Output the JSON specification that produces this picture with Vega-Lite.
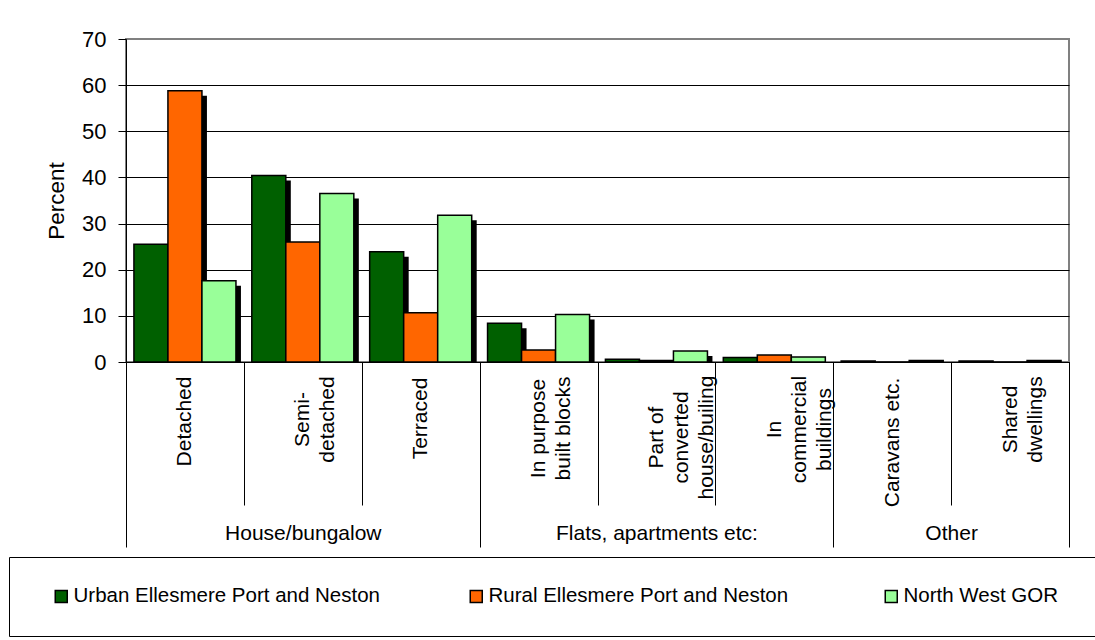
{
  "$schema": "https://vega.github.io/schema/vega-lite/v6.json",
  "width": 943,
  "height": 323,
  "autosize": {"type": "none"},
  "padding": {"left": 126, "top": 39, "right": 26, "bottom": 278},
  "background": "white",
  "config": {
    "font": "Liberation Sans",
    "view": {"stroke": "#808080", "strokeWidth": 2}
  },
  "data": {
    "values": [
      {"type": "Detached", "group": "House/bungalow", "series": "Urban Ellesmere Port and Neston", "value": 25.5},
      {"type": "Detached", "group": "House/bungalow", "series": "Rural Ellesmere Port and Neston", "value": 58.8},
      {"type": "Detached", "group": "House/bungalow", "series": "North West GOR", "value": 17.6},
      {"type": "Semi-|detached", "group": "House/bungalow", "series": "Urban Ellesmere Port and Neston", "value": 40.4},
      {"type": "Semi-|detached", "group": "House/bungalow", "series": "Rural Ellesmere Port and Neston", "value": 26.0},
      {"type": "Semi-|detached", "group": "House/bungalow", "series": "North West GOR", "value": 36.5},
      {"type": "Terraced", "group": "House/bungalow", "series": "Urban Ellesmere Port and Neston", "value": 23.9},
      {"type": "Terraced", "group": "House/bungalow", "series": "Rural Ellesmere Port and Neston", "value": 10.7},
      {"type": "Terraced", "group": "House/bungalow", "series": "North West GOR", "value": 31.8},
      {"type": "In purpose|built blocks", "group": "Flats, apartments etc:", "series": "Urban Ellesmere Port and Neston", "value": 8.4},
      {"type": "In purpose|built blocks", "group": "Flats, apartments etc:", "series": "Rural Ellesmere Port and Neston", "value": 2.6},
      {"type": "In purpose|built blocks", "group": "Flats, apartments etc:", "series": "North West GOR", "value": 10.3},
      {"type": "Part of|converted|house/builing", "group": "Flats, apartments etc:", "series": "Urban Ellesmere Port and Neston", "value": 0.6},
      {"type": "Part of|converted|house/builing", "group": "Flats, apartments etc:", "series": "Rural Ellesmere Port and Neston", "value": 0.3},
      {"type": "Part of|converted|house/builing", "group": "Flats, apartments etc:", "series": "North West GOR", "value": 2.4},
      {"type": "In|commercial|buildings", "group": "Flats, apartments etc:", "series": "Urban Ellesmere Port and Neston", "value": 1.0},
      {"type": "In|commercial|buildings", "group": "Flats, apartments etc:", "series": "Rural Ellesmere Port and Neston", "value": 1.5},
      {"type": "In|commercial|buildings", "group": "Flats, apartments etc:", "series": "North West GOR", "value": 1.1},
      {"type": "Caravans etc.", "group": "Other", "series": "Urban Ellesmere Port and Neston", "value": 0.2},
      {"type": "Caravans etc.", "group": "Other", "series": "Rural Ellesmere Port and Neston", "value": 0.0},
      {"type": "Caravans etc.", "group": "Other", "series": "North West GOR", "value": 0.3},
      {"type": "Shared|dwellings", "group": "Other", "series": "Urban Ellesmere Port and Neston", "value": 0.2},
      {"type": "Shared|dwellings", "group": "Other", "series": "Rural Ellesmere Port and Neston", "value": 0.0},
      {"type": "Shared|dwellings", "group": "Other", "series": "North West GOR", "value": 0.3}
    ]
  },
  "encoding": {
    "y": {
      "field": "value",
      "type": "quantitative",
      "scale": {"domain": [0, 70], "nice": false},
      "axis": {
        "values": [0, 10, 20, 30, 40, 50, 60, 70],
        "domain": true,
        "domainColor": "black",
        "domainWidth": 1,
        "ticks": true,
        "tickSize": 8,
        "tickColor": "black",
        "grid": true,
        "gridColor": {"condition": {"test": "datum.value == 70", "value": "#808080"}, "value": "black"},
        "gridWidth": 1,
        "labelFontSize": 22,
        "labelColor": "black",
        "labelPadding": 12,
        "title": "Percent",
        "titleFontSize": 22.5,
        "titleFontWeight": "normal",
        "titleColor": "black",
        "titlePadding": 13
      }
    }
  },
  "layer": [
    {
      "mark": {"type": "bar", "fill": "black", "yOffset": 5, "clip": true},
      "encoding": {
        "x": {
          "field": "type",
          "type": "nominal",
          "sort": null,
          "scale": {"paddingInner": 0, "paddingOuter": 0},
          "axis": {
            "orient": "bottom",
            "domain": false,
            "grid": false,
            "ticks": true,
            "tickOffset": 58.9375,
            "tickSize": 185,
            "tickColor": "black",
            "tickWidth": 1,
            "tickOpacity": {"condition": {"test": "datum.value == 'Terraced' || datum.value == 'In|commercial|buildings' || datum.value == 'Shared|dwellings'", "value": 1}, "value": 0},
            "labelExpr": "datum.value == 'Semi-|detached' ? 'House/bungalow' : datum.value == 'Part of|converted|house/builing' ? 'Flats, apartments etc:' : datum.value == 'Caravans etc.' ? 'Other' : ''",
            "labelAngle": 0,
            "labelAlign": "center",
            "labelBaseline": "middle",
            "labelPadding": -14,
            "labelOffset": {"condition": {"test": "datum.value == 'Caravans etc.'", "value": 0}, "value": -58.9375},
            "labelFontSize": 21,
            "labelColor": "black",
            "labelOverlap": false,
            "labelBound": false,
            "labelFlush": false,
            "labelLimit": 0,
            "title": null
          }
        },
        "xOffset": {
          "field": "series",
          "type": "nominal",
          "sort": null,
          "scale": {"paddingOuter": 0.233, "paddingInner": 0, "range": [5, 122.875]}
        }
      }
    },
    {
      "mark": {"type": "bar", "stroke": "black", "strokeWidth": 1.5},
      "encoding": {
        "x": {
          "field": "type",
          "type": "nominal",
          "sort": null,
          "scale": {"paddingInner": 0, "paddingOuter": 0},
          "axis": {
            "orient": "bottom",
            "domain": true,
            "domainColor": "black",
            "domainWidth": 1,
            "grid": false,
            "ticks": true,
            "tickBand": "extent",
            "tickSize": {"condition": {"test": "isValid(datum.extra)", "value": 185}, "value": 143},
            "tickColor": "black",
            "tickWidth": 1,
            "labelExpr": "isValid(datum.value) ? split(datum.value, '|') : ''",
            "labelAngle": 270,
            "labelAlign": "center",
            "labelBaseline": "middle",
            "labelLineHeight": 25,
            "labelPadding": {
              "condition": [
                {"test": "datum.value == 'Detached'", "value": -84},
                {"test": "datum.value == 'Semi-|detached'", "value": -86},
                {"test": "datum.value == 'Terraced'", "value": -87},
                {"test": "datum.value == 'In purpose|built blocks'", "value": -77},
                {"test": "datum.value == 'Part of|converted|house/builing'", "value": -68},
                {"test": "datum.value == 'In|commercial|buildings'", "value": -76},
                {"test": "datum.value == 'Caravans etc.'", "value": -63}
              ],
              "value": -86
            },
            "labelFontSize": 21,
            "labelColor": "black",
            "labelOverlap": false,
            "labelBound": false,
            "labelFlush": false,
            "labelLimit": 0,
            "title": null
          }
        },
        "xOffset": {
          "field": "series",
          "type": "nominal",
          "sort": null,
          "scale": {"paddingOuter": 0.233, "paddingInner": 0}
        },
        "fill": {
          "field": "series",
          "type": "nominal",
          "scale": {
            "domain": ["Urban Ellesmere Port and Neston", "Rural Ellesmere Port and Neston", "North West GOR"],
            "range": ["#006000", "#FF6600", "#99FF99"]
          },
          "legend": {
            "orient": "none",
            "legendX": -117,
            "legendY": 518,
            "direction": "horizontal",
            "columns": 3,
            "gridAlign": "all",
            "columnPadding": 72,
            "title": " ",
            "titleOrient": "right",
            "titleFontSize": 10,
            "titlePadding": 60,
            "padding": 29,
            "strokeColor": "black",
            "symbolType": "square",
            "symbolSize": 144,
            "symbolStrokeColor": "black",
            "symbolStrokeWidth": 1.5,
            "symbolOpacity": 1,
            "symbolOffset": 13,
            "labelFontSize": 20.5,
            "labelColor": "black",
            "labelOffset": 2,
            "labelLimit": 0
          }
        }
      }
    }
  ],
  "resolve": {
    "axis": {"x": "independent"},
    "scale": {"xOffset": "independent"}
  }
}
